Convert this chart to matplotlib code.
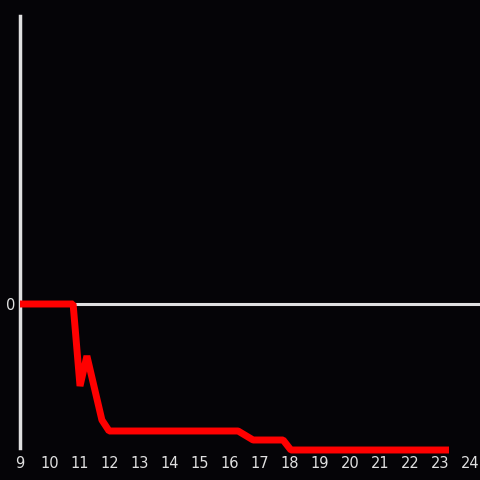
import numpy as np
import matplotlib
matplotlib.use("Agg")
import matplotlib.pyplot as plt

# data
xs = [9.0, 10.77, 11.0, 11.23, 11.73, 11.97, 16.27, 16.77, 17.77, 18.03, 23.3]
ys = [0.0, 0.0, -20.5, -13.0, -29.0, -31.75, -31.75, -34.0, -34.0, -36.5, -36.5]
xticks = list(range(9, 25))

bg = "#050407"
fg = "#e0e0e0"

fig = plt.figure(figsize=(4.8, 4.8), dpi=100, facecolor=bg)
ax = fig.add_axes([20 / 480, 32 / 480, 460 / 480, 432 / 480])
ax.set_facecolor(bg)

ax.axhline(0, color=fg, lw=2.2, zorder=1)
ax.plot(xs, ys, color="#ff0000", lw=5, solid_joinstyle="bevel",
        solid_capstyle="butt", clip_on=False, zorder=3)

ax.set_xlim(9, 24.333)
ax.set_ylim(-36, 72)
ax.set_xticks(xticks)
ax.set_xticklabels([str(t) for t in xticks])
ax.set_yticks([0])
ax.set_yticklabels(["0"])
ax.tick_params(colors=fg, length=0, labelsize=10.5, pad=6)
ax.tick_params(axis="y", pad=3)

for s in ["top", "right", "bottom"]:
    ax.spines[s].set_visible(False)
ax.spines["left"].set_color(fg)
ax.spines["left"].set_linewidth(2.5)

fig.savefig("out.png", facecolor=bg)
